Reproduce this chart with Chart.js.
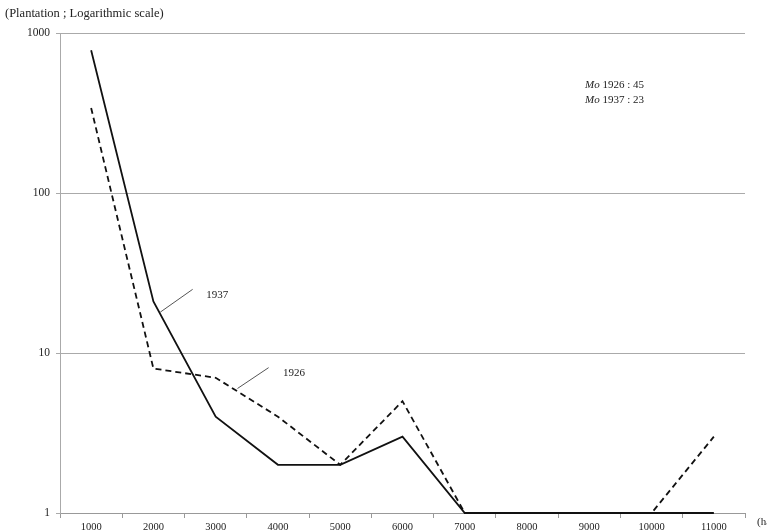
<!DOCTYPE html>
<html>
<head>
<meta charset="utf-8">
<script src="https://cdn.jsdelivr.net/npm/chart.js@4"></script>
<style>
  body { margin: 0; background: #fff; }
  #wrap { width: 767px; height: 531px; }
</style>
</head>
<body>
<div id="wrap"><canvas id="myChart"></canvas></div>
<script>
const categories = ['1000', '2000', '3000', '4000', '5000', '6000', '7000', '8000', '9000', '10000', '11000'];
const values1937 = [780, 21, 4, 2, 2, 3, 1, 1, 1, 1, 1];
const values1926 = [340, 8, 7, 4, 2, 5, 1, 1, 1, 1, 3];
const yTicks = [1, 10, 100, 1000];
const moLines = [['Mo', ' 1926 : 45'], ['Mo', ' 1937 : 23']];

const serif = '"Liberation Serif", "Times New Roman", serif';

// title, (ha), Mo notes and the series labels with their leader lines
const extras = {
    id: 'extras',
    afterDraw(chart) {
        const ctx = chart.ctx;
        const x = chart.scales.x;
        const y = chart.scales.y;
        const area = chart.chartArea;
        ctx.save();
        ctx.fillStyle = '#222';
        ctx.textBaseline = 'middle';
        ctx.font = '12.5px ' + serif;
        ctx.fillText('(Plantation ; Logarithmic scale)', 5, 14);
        ctx.font = '11px ' + serif;
        ctx.fillText('(ha)', area.right + 12, area.bottom + 9);

        // Mo notes
        moLines.forEach(function (m, i) {
            const ty = 85 + i * 15;
            ctx.font = 'italic 11px ' + serif;
            ctx.fillText(m[0], 585, ty);
            const w = ctx.measureText(m[0]).width;
            ctx.font = '11px ' + serif;
            ctx.fillText(m[1], 585 + w, ty);
        });

        // leader lines
        ctx.strokeStyle = '#555';
        ctx.lineWidth = 1;
        const step = x.getPixelForValue(1) - x.getPixelForValue(0);
        ctx.beginPath();
        ctx.moveTo(x.getPixelForValue(1) + step * 0.11, y.getPixelForValue(18));
        ctx.lineTo(x.getPixelForValue(1) + step * 0.63, y.getPixelForValue(25));
        ctx.moveTo(x.getPixelForValue(2) + step * 0.35, y.getPixelForValue(6));
        ctx.lineTo(x.getPixelForValue(2) + step * 0.85, y.getPixelForValue(8.1));
        ctx.stroke();
        ctx.font = '11px ' + serif;
        ctx.fillText('1937', x.getPixelForValue(1) + step * 0.85, y.getPixelForValue(23));
        ctx.fillText('1926', x.getPixelForValue(2) + step * 1.08, y.getPixelForValue(7.5));
        ctx.restore();
    }
};

const ctx = document.getElementById('myChart');
const myChart = new Chart(ctx, {
    type: 'line',
    data: {
        labels: categories,
        datasets: [{
            label: '1926',
            data: values1926,
            borderColor: '#111',
            borderWidth: 1.8,
            borderDash: [6, 4],
            pointRadius: 0,
            tension: 0,
            clip: false
        }, {
            label: '1937',
            data: values1937,
            borderColor: '#111',
            borderWidth: 1.8,
            pointRadius: 0,
            tension: 0,
            clip: false
        }]
    },
    options: {
        responsive: true,
        maintainAspectRatio: false,
        animation: false,
        layout: {
            padding: { top: 33, right: 22, bottom: 0, left: 0 }
        },
        plugins: {
            legend: { display: false },
            tooltip: { enabled: false }
        },
        scales: {
            x: {
                type: 'category',
                offset: true,
                grid: {
                    offset: true,
                    drawOnChartArea: false,
                    color: '#999',
                    tickLength: 5
                },
                border: { color: '#999' },
                ticks: {
                    color: '#222',
                    font: { family: serif, size: 10.5 },
                    maxRotation: 0,
                    padding: 3
                },
                afterFit(scale) { scale.height = 18; }
            },
            y: {
                type: 'logarithmic',
                min: 1,
                max: 1000,
                afterBuildTicks(scale) {
                    scale.ticks = yTicks.map(function (v) { return { value: v }; });
                },
                grid: {
                    color: '#aaa',
                    tickLength: 4
                },
                border: { color: '#aaa' },
                ticks: {
                    color: '#222',
                    font: { family: serif, size: 11.5 },
                    padding: 6,
                    callback: function (v) { return String(v); }
                },
                afterFit(scale) { scale.width = 60; }
            }
        }
    },
    plugins: [extras]
});
</script>
</body>
</html>
